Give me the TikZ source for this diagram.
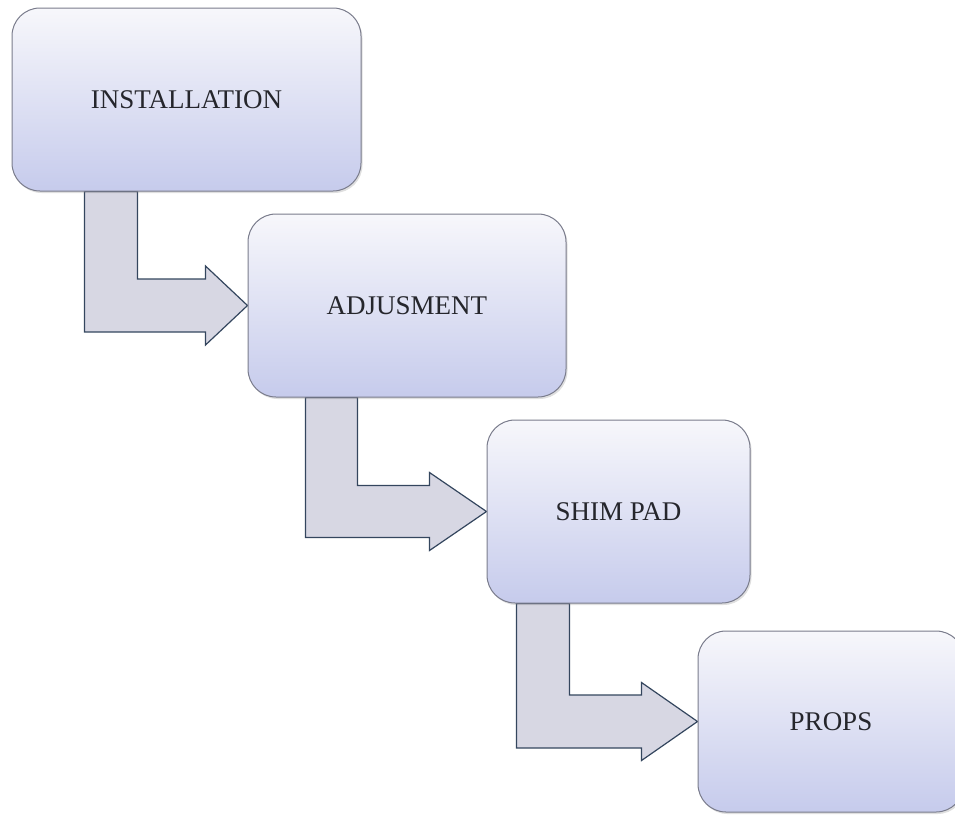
\documentclass[tikz,border=0pt]{standalone}
\usepackage{fontspec}
\setmainfont{Liberation Serif}
\usetikzlibrary{calc,shadows,backgrounds}
\definecolor{boxtop}{HTML}{F7F7FB}
\definecolor{boxbot}{HTML}{C6CBEC}
\definecolor{boxline}{HTML}{7A7C8C}
\definecolor{arrfill}{HTML}{D7D7E3}
\definecolor{arrline}{HTML}{34465E}
\definecolor{txt}{HTML}{25262C}
\tikzset{
  stepbox/.style={rectangle, rounded corners=28pt, draw=boxline, line width=1pt,
    top color=boxtop, bottom color=boxbot, text=txt,
    font=\fontsize{27}{32}\selectfont, inner sep=0pt,
    drop shadow={shadow xshift=1.5pt, shadow yshift=-2pt, opacity=0.25}},
  flowarr/.style={fill=arrfill, draw=arrline, line width=1.2pt, line join=miter}
}
% #1 from, #2 to, #3 shaft left offset, #4 shaft width, #5 head length, #6 head half-height
\newcommand\flowarrow[6]{%
  \filldraw[flowarr] let \p1=($(#1.south west)+(#3,0)$), \p2=(#2.west) in
    (\x1,\y1) -- (\x1+#4,\y1) -- (\x1+#4,\y2+#4/2) -- (\x2-#5,\y2+#4/2)
    -- (\x2-#5,\y2+#6) -- (\x2,\y2) -- (\x2-#5,\y2-#6) -- (\x2-#5,\y2-#4/2)
    -- (\x1,\y2-#4/2) -- cycle;}
\begin{document}
\begin{tikzpicture}[x=1pt,y=-1pt]
\useasboundingbox (0,0) rectangle (955,814);
\node[stepbox, minimum width=349pt, minimum height=183pt] (a) at (186.5,99.5) {INSTALLATION};
\node[stepbox, minimum width=318pt, minimum height=183pt] (b) at (407,305.5) {ADJUSMENT};
\node[stepbox, minimum width=263pt, minimum height=183pt] (c) at (618.5,511.5) {SHIM PAD};
\node[stepbox, minimum width=266pt, minimum height=181pt] (d) at (831,721.5) {PROPS};
\begin{scope}[on background layer]
\flowarrow{a}{b}{73}{53}{42}{39.5}
\flowarrow{b}{c}{58}{52}{57}{39}
\flowarrow{c}{d}{30}{53}{56}{39}
\end{scope}
\end{tikzpicture}
\end{document}
